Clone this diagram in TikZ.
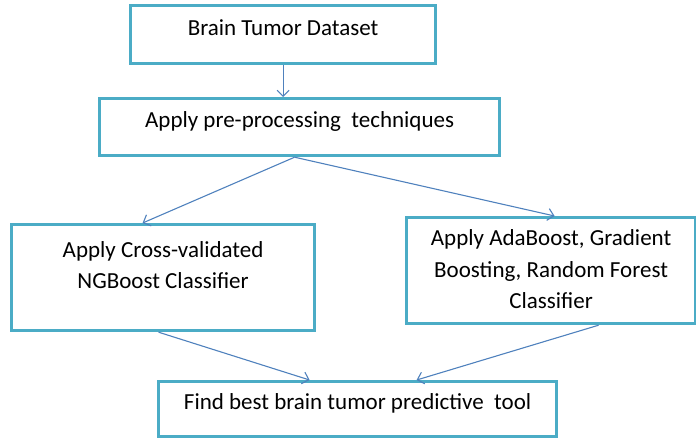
\documentclass[tikz,border=0pt]{standalone}
\usepackage{fontspec}
\setmainfont{Carlito}
\usetikzlibrary{arrows.meta}
\definecolor{boxcyan}{RGB}{75,172,198}
\definecolor{arrblue}{RGB}{79,129,189}

\begin{document}
\begin{tikzpicture}
  [x=1pt,y=-1pt,
   every node/.style={rectangle,draw=boxcyan,line width=3.2pt,fill=white,anchor=north west,
     align=center,inner ysep=0pt,font=\fontsize{23}{31.5}\selectfont},
   flowarr/.style={draw=arrblue,line width=1.1pt,-{Straight Barb[length=6pt,width=12pt]}}]
  \useasboundingbox (0,0) rectangle (696,437);

  \node[minimum width=305pt,text height=30pt,text depth=28pt] (n1) at (129,4)   {Brain Tumor Dataset};
  \node[minimum width=400pt,text height=29pt,text depth=28pt] (n2) at (98,97)   {Apply pre-processing\ \ techniques};
  \node[minimum width=303pt,text height=64pt,text depth=42pt] (n3) at (10,223)  {Apply Cross-validated\\NGBoost Classifier};
  \node[minimum width=289pt,text height=91pt,text depth=15pt] (n4) at (405,216) {Apply AdaBoost, Gradient\\Boosting, Random Forest\\Classifier};
  \node[minimum width=398pt,text height=28pt,text depth=27pt] (n5) at (157,380) {Find best brain tumor predictive\ \ tool};

   \foreach \a/\da/\b/\db in {n1/0/n2/-16.5, n2/-5/n3/-20.5, n2/-5/n4/3.5, n3/-4.5/n5/-48, n4/47.5/n5/59}
      \draw[flowarr] ([xshift=\da pt]\a.south) -- ([xshift=\db pt]\b.north);

\end{tikzpicture}
\end{document}
